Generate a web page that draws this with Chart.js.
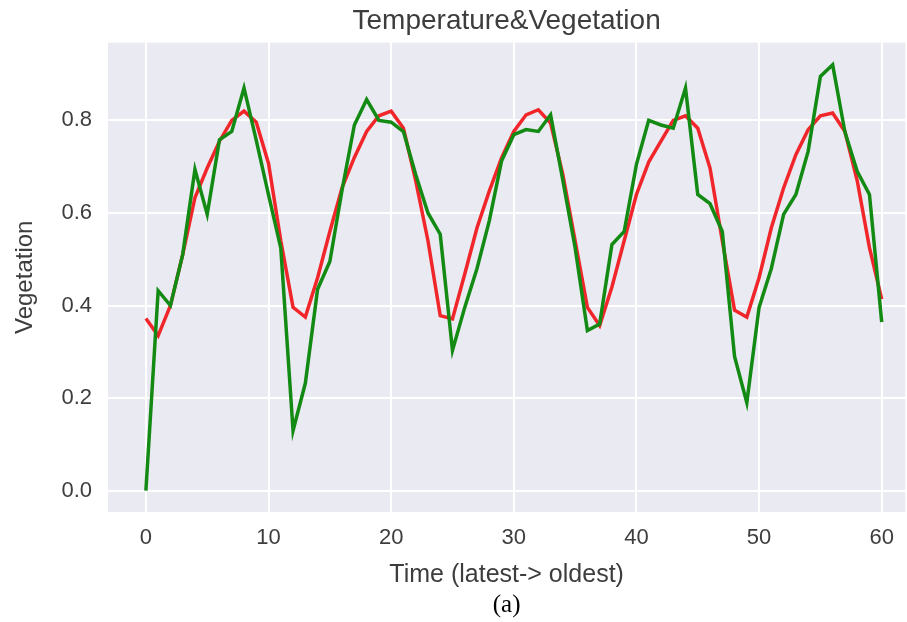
<!DOCTYPE html>
<html>
<head>
<meta charset="utf-8">
<script src="https://cdn.jsdelivr.net/npm/chart.js@4.4.0/dist/chart.umd.min.js"></script>
<style>
  html, body { margin: 0; padding: 0; background: #fff; }
  #wrap { width: 907px; height: 622px; }
</style>
</head>
<body>
<div id="wrap"><canvas id="myChart" width="907" height="622"></canvas></div>
<script>
const timeSteps = [0, 1, 2, 3, 4, 5, 6, 7, 8, 9, 10, 11, 12, 13, 14, 15, 16, 17, 18, 19, 20,
  21, 22, 23, 24, 25, 26, 27, 28, 29, 30, 31, 32, 33, 34, 35, 36, 37, 38, 39, 40,
  41, 42, 43, 44, 45, 46, 47, 48, 49, 50, 51, 52, 53, 54, 55, 56, 57, 58, 59, 60];

const temperature = [0.372, 0.335, 0.40, 0.51, 0.633, 0.697, 0.755, 0.80, 0.82, 0.796, 0.707,
  0.54, 0.396, 0.375, 0.46, 0.56, 0.655, 0.72, 0.776, 0.81, 0.82,
  0.783, 0.67, 0.54, 0.378, 0.371, 0.468, 0.568, 0.647, 0.719, 0.776,
  0.812, 0.823, 0.794, 0.683, 0.54, 0.396, 0.357, 0.44, 0.54, 0.64,
  0.71, 0.755, 0.80, 0.81, 0.783, 0.697, 0.54, 0.39, 0.375, 0.46,
  0.568, 0.654, 0.726, 0.78, 0.81, 0.816, 0.776, 0.67, 0.525, 0.414];

const vegetation = [0.0, 0.432, 0.40, 0.51, 0.694, 0.597, 0.758, 0.776, 0.87, 0.757, 0.639,
  0.524, 0.13, 0.232, 0.435, 0.495, 0.65, 0.79, 0.845, 0.80, 0.796,
  0.776, 0.683, 0.60, 0.554, 0.303, 0.396, 0.48, 0.583, 0.712, 0.769,
  0.78, 0.776, 0.812, 0.67, 0.525, 0.346, 0.36, 0.532, 0.56, 0.705,
  0.80, 0.79, 0.783, 0.87, 0.64, 0.62, 0.56, 0.29, 0.19, 0.396,
  0.48, 0.597, 0.64, 0.733, 0.895, 0.92, 0.775, 0.69, 0.64, 0.364];

const xTicks = [0, 10, 20, 30, 40, 50, 60];
const yTicks = [0.0, 0.2, 0.4, 0.6, 0.8];

const textColor = '#3d3d3d';
const sans = "'Liberation Sans', Arial, sans-serif";

// seaborn style grey panel behind the lines
const panelBg = {
  id: 'panelBg',
  beforeDraw(chart) {
    const { ctx, chartArea } = chart;
    ctx.save();
    ctx.fillStyle = '#eaeaf2';
    ctx.fillRect(chartArea.left, chartArea.top, chartArea.right - chartArea.left, chartArea.bottom - chartArea.top);
    ctx.restore();
  }
};

const ctx = document.getElementById('myChart').getContext('2d');
new Chart(ctx, {
  type: 'line',
  data: {
    labels: timeSteps,
    datasets: [
      {
        label: 'Vegetation',
        data: vegetation,
        borderColor: '#138a13',
        borderWidth: 3.5,
        pointRadius: 0,
        tension: 0,
        order: 0,
      },
      {
        label: 'Temperature',
        data: temperature,
        borderColor: '#f0262a',
        borderWidth: 3.5,
        pointRadius: 0,
        tension: 0,
        order: 1,
      },
    ],
  },
  options: {
    responsive: false,
    animation: false,
    layout: { padding: 0 },
    plugins: {
      legend: { display: false },
      tooltip: { enabled: false },
      title: {
        display: true,
        fullSize: false,
        text: 'Temperature&Vegetation',
        color: textColor,
        font: { family: sans, size: 28, weight: 'normal' },
        padding: { top: 4, bottom: 5 },
      },
      subtitle: {
        display: true,
        fullSize: false,
        position: 'bottom',
        text: '(a)',
        color: '#000',
        font: { family: "'Liberation Serif', 'Times New Roman', serif", size: 25, weight: 'normal' },
        padding: { top: 0, bottom: 2 },
      },
    },
    scales: {
      x: {
        type: 'linear',
        min: -3.09,
        max: 61.92,
        afterBuildTicks: (scale) => { scale.ticks = xTicks.map((v) => ({ value: v })); },
        afterFit: (scale) => { scale.height = 78; },
        border: { display: false },
        grid: { color: '#ffffff', lineWidth: 2, drawTicks: false },
        ticks: { color: textColor, padding: 13, font: { family: sans, size: 22 } },
        title: {
          display: true,
          text: 'Time (latest-> oldest)',
          color: textColor,
          font: { family: sans, size: 25 },
          padding: { top: 0, bottom: 0 },
        },
      },
      y: {
        min: -0.046,
        max: 0.968,
        afterBuildTicks: (scale) => { scale.ticks = yTicks.map((v) => ({ value: v })); },
        afterFit: (scale) => { scale.width = 108; },
        border: { display: false },
        grid: { color: '#ffffff', lineWidth: 2, drawTicks: false },
        ticks: {
          color: textColor,
          padding: 16,
          font: { family: sans, size: 22 },
          callback: (v) => Number(v).toFixed(1),
        },
        title: {
          display: true,
          text: 'Vegetation',
          color: textColor,
          font: { family: sans, size: 24 },
          padding: { top: 11, bottom: 0 },
        },
      },
    },
  },
  plugins: [panelBg],
});
</script>
</body>
</html>
